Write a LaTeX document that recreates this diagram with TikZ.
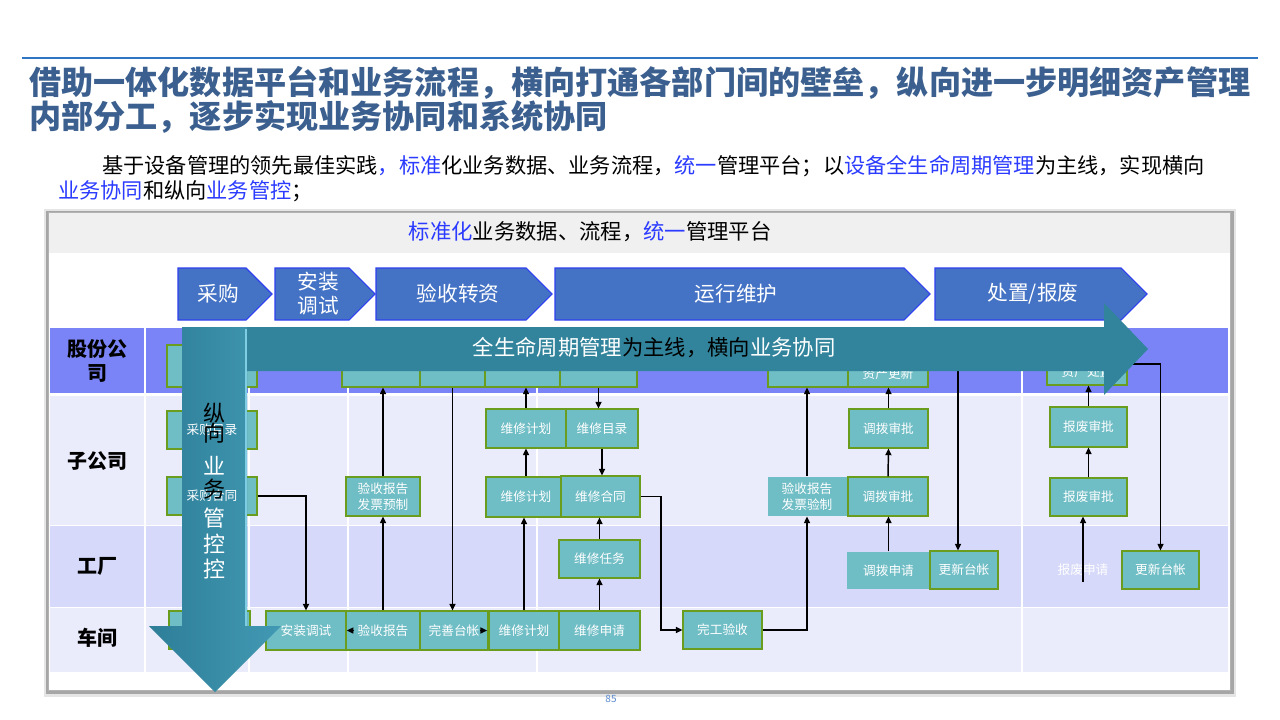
\documentclass[tikz,border=0pt]{standalone}
\usepackage{fontspec}
\setmainfont{Noto Sans CJK SC}
\usetikzlibrary{arrows.meta,calc}
\definecolor{ttl}{HTML}{3B5F8E}
\definecolor{hl}{HTML}{2B3BFF}
\definecolor{rulec}{HTML}{2E75C5}
\definecolor{chev}{HTML}{4472C4}
\definecolor{chevln}{HTML}{2F40F0}
\definecolor{boxf}{HTML}{6FBDC5}
\definecolor{boxln}{HTML}{6A9C1E}
\definecolor{rowA}{HTML}{7A84F7}
\definecolor{rowB}{HTML}{EAEBFB}
\definecolor{rowC}{HTML}{D6D9F9}
\definecolor{hdrf}{HTML}{F0F0F0}
\definecolor{hbar}{HTML}{31849B}
\definecolor{vbarA}{HTML}{2E7E98}
\definecolor{vbarB}{HTML}{4299B3}
\definecolor{vhl}{HTML}{7FCDE3}
\definecolor{pgno}{HTML}{5B8BD0}

\begin{document}
\begin{tikzpicture}[x=0.75pt,y=-0.75pt,
  proc/.style={draw=boxln,line width=0.8pt,fill=boxf,text=white,inner sep=0pt,align=center,font=\fontsize{9.5}{12}\selectfont},
  plainbox/.style={proc,draw=none},
  sz/.style 2 args={minimum width=#1*0.75pt,minimum height=#2*0.75pt},
  conn/.style={line width=1.1pt,-{Triangle[length=5pt,width=4.5pt]}},
  lane/.style={font=\bfseries\fontsize{15}{18}\selectfont,align=center}]
  \useasboundingbox (0,0) rectangle (1280,720);
  \fill[white] (0,0) rectangle (1280,720);
  \draw[rulec,line width=0.9pt] (22,58) -- (1258,58);
  \node[anchor=west,inner sep=0pt,text=ttl,font=\bfseries\fontsize{24.1}{29}\selectfont] (ttl1) at (29,83) {借助一体化数据平台和业务流程，横向打通各部门间的壁垒，纵向进一步明细资产管理};
  \node[anchor=west,inner sep=0pt,text=ttl,font=\bfseries\fontsize{24.1}{29}\selectfont] (ttl2) at (29,117) {内部分工，逐步实现业务协同和系统协同};
  \node[anchor=west,inner sep=0pt,font=\fontsize{15.9}{18}\selectfont] (sub1) at (102,166) {基于设备管理的领先最佳实践\textcolor{hl}{，标准}化业务数据、业务流程，\textcolor{hl}{统一}管理平台；以\textcolor{hl}{设备全生命周期管理}为主线，实现横向};
  \node[anchor=west,inner sep=0pt,font=\fontsize{15.9}{18}\selectfont] (sub2) at (58,191) {\textcolor{hl}{业务协同}和纵向\textcolor{hl}{业务管控}；};

  \fill[black!10] (44,209) rectangle (1236,697);
  \fill[black!35] (46,211) rectangle (1234,694);
  \fill[white] (48,212) rectangle (1230,690);
  \fill[hdrf] (48,212) rectangle (1230,253);
  \draw[black!30,line width=0.5pt] (48,212) rectangle (1230,690);
  \node[font=\fontsize{16}{19}\selectfont] (hdr) at (590,232) {\textcolor{hl}{标准化}业务数据、流程，\textcolor{hl}{统一}管理平台};

  \fill[rowA] (50,328) rectangle (1228,393);
  \fill[rowB] (50,396) rectangle (1228,525);
  \fill[rowC] (50,526) rectangle (1228,607);
  \fill[rowB] (50,608) rectangle (1228,672);
  \foreach \x in {145,249,348,537,1022}
    \draw[white,line width=1pt] (\x,328) -- (\x,672);
  \node[lane] (lnA) at (97,361) {股份公\\司};
  \node[lane] (lnB) at (97,461) {子公司};
  \node[lane] (lnC) at (97,566) {工厂};
  \node[lane] (lnD) at (97,638) {车间};

  \foreach \a/\b/\cx/\t [count=\i] in {178/272/218/采购,275/375/318/{安装\\调试},376/552/458/验收转资,555/930/736/运行维护,935/1147/1033/{处置/报废}}{
    \draw[chevln,fill=chev,line width=0.8pt] (\a,268) -- (\b-26,268) -- (\b,294) -- (\b-26,320) -- (\a,320) -- cycle;
    \node[text=white,align=center,font=\fontsize{15.5}{18}\selectfont] (ph\i) at (\cx,294) {\t};
  }

  \node[proc,sz={90}{42}] (gA) at (212,366) {};
  \node[proc,sz={78}{26}] (gB1) at (381,374) {};
  \node[proc,sz={65}{26}] (gB2) at (452.5,374) {};
  \node[proc,sz={77}{26}] (gB3) at (523.5,374) {};
  \node[proc,sz={77}{26}] (gB4) at (598.5,374) {};
  \node[proc,sz={80}{26}] (gC1) at (808,374) {};
  \node[proc,sz={80}{26}] (gC2) at (888,374) {资产更新};
  \node[proc,sz={80}{26}] (gD) at (1087,372) {资产处置};

  \node[proc,sz={90}{38}] (cgml) at (212,430) {};
  \node[proc,sz={90}{38}] (cght) at (212,496) {};
  \node[proc,sz={74}{39}] (ysyz) at (383,496.5) {验收报告\\发票预制};
  \node[proc,sz={80}{39}] (wxjh1) at (526,428.5) {维修计划};
  \node[proc,sz={72}{39}] (wxml) at (602,428.5) {维修目录};
  \node[proc,sz={80}{40}] (wxjh2) at (526,497) {维修计划};
  \node[proc,sz={79}{41}] (wxht) at (600.5,496.5) {维修合同};
  \node[plainbox,sz={79}{39}] (ysyz2) at (807,496.5) {验收报告\\发票验制};
  \node[proc,sz={79}{39}] (dbsp1) at (888.5,428.5) {调拨审批};
  \node[proc,sz={80}{39}] (dbsp2) at (888,496.5) {调拨审批};
  \node[proc,sz={77}{40}] (bfsp1) at (1088.5,427) {报废审批};
  \node[proc,sz={77}{38}] (bfsp2) at (1088.5,497) {报废审批};

  \node[proc,sz={81}{38}] (wxrw) at (599.5,559) {维修任务};
  \node[plainbox,sz={83}{37}] (dbsq) at (888.5,570.5) {调拨申请};
  \node[proc,sz={68}{38}] (gxtz1) at (964,570) {更新台帐};
  \node[text=white,inner sep=0pt,minimum height=24*0.75pt,font=\fontsize{9.5}{12}\selectfont] (bfsq) at (1083,570) {报废申请};
  \node[proc,sz={77}{38}] (gxtz2) at (1160.5,570) {更新台帐};

  \node[proc,sz={81}{38}] (cjA) at (209.5,630) {};
  \node[proc,sz={80}{39}] (azts) at (306,630.5) {安装调试};
  \node[proc,sz={74}{39}] (ysbg) at (383,630.5) {验收报告};
  \node[proc,sz={68}{39}] (wstz) at (454,630.5) {完善台帐};
  \node[proc,sz={70}{39}] (wxjh3) at (524,630.5) {维修计划};
  \node[proc,sz={81}{39}] (wxsq) at (599.5,630.5) {维修申请};
  \node[proc,sz={79}{38}] (wgys) at (722.5,630) {完工验收};

  \coordinate (k1) at (661,630);
  \coordinate (k2) at (958,360);
  \coordinate (k3) at (1140,364);
  \draw[conn] (cght.east) -| (azts.north);
  \draw[conn] (ysyz.north) -- (ysyz.north |- gB1.south);
  \draw[conn] (ysbg.north) -- (ysyz.south);
  \draw[conn] (gB2.south) -- (gB2.south |- wstz.north);
  \draw[conn] (wxjh2.north) -- (wxjh1.south);
  \draw[conn] (wxjh1.north) -- (wxjh1.north |- gB3.south);
  \draw[conn] (gB4.south) -- (gB4.south |- wxml.north);
  \draw[conn] (wxml.south) -- (wxml.south |- wxht.north);
  \draw[conn] (wxjh3.north) -- (wxjh3.north |- wxjh2.south);
  \draw[conn] (wxsq.north) -- (wxsq.north |- wxrw.south);
  \draw[conn] (wxrw.north) -- (wxrw.north |- wxht.south);
  \draw[conn] (wxht.east) -| (k1) -- (wgys.west);
  \draw[conn] (wgys.east) -| (ysyz2.south);
  \draw[conn] (ysyz2.north) -- (ysyz2.north |- gC1.south);
  \draw[conn] (dbsp1.north) -- (dbsp1.north |- gC2.south);
  \draw[conn] (dbsp2.north) -- (dbsp1.south);
  \draw[conn] (dbsq.north) -- (dbsq.north |- dbsp2.south);
  \draw[conn] (k2) -- (k2 |- gxtz1.north);
  \draw[conn] (bfsq.south) -- (bfsq.south |- bfsp2.south);
  \draw[conn] (bfsp2.north) -- (bfsp1.south);
  \draw[conn] (bfsp1.north) -- (bfsp1.north |- gD.south);
  \draw[conn] (k3 -| gD.east) -| (gxtz2.north);
  \draw[conn] ([xshift=6pt]ysbg.west) -- ([xshift=1pt]ysbg.west);
  \draw[conn] ([xshift=-6pt]wxjh3.west) -- ([xshift=-1pt]wxjh3.west);

  \fill[hbar] (184,327) -- (1104,327) -- (1104,303) -- (1148,349) -- (1104,395) -- (1104,371) -- (184,371) -- cycle;
  \node[font=\fontsize{16}{19}\selectfont] (hlab) at (654,348) {\textcolor{white}{全生命周期管理}为主线，横向\textcolor{white}{业务协同}};

  \shade[left color=vbarA,right color=vbarB] (182,327) -- (247,327) -- (247,626) -- (281,626) -- (215,692) -- (149,626) -- (182,626) -- cycle;
  \fill[vhl] (244.5,329) rectangle (247,626);
  \node[text=white,font=\fontsize{9.5}{12}\selectfont] (cgmlt) at (cgml) {采购目录};
  \node[text=white,font=\fontsize{9.5}{12}\selectfont] (chtt) at (cght) {采购合同};
  \foreach \ch/\yy/\cc [count=\i] in {纵/413/black,向/433/black,业/466/white,务/489/black,管/518/white,控/544/white,控/569/white}
    \node[text=\cc,inner sep=0pt,font=\fontsize{16.5}{18}\selectfont] (vt\i) at (214,\yy) {\ch};

  \node[text=pgno,font=\fontsize{7.5}{9}\selectfont] (pg) at (611,699) {85};
\end{tikzpicture}
\end{document}
